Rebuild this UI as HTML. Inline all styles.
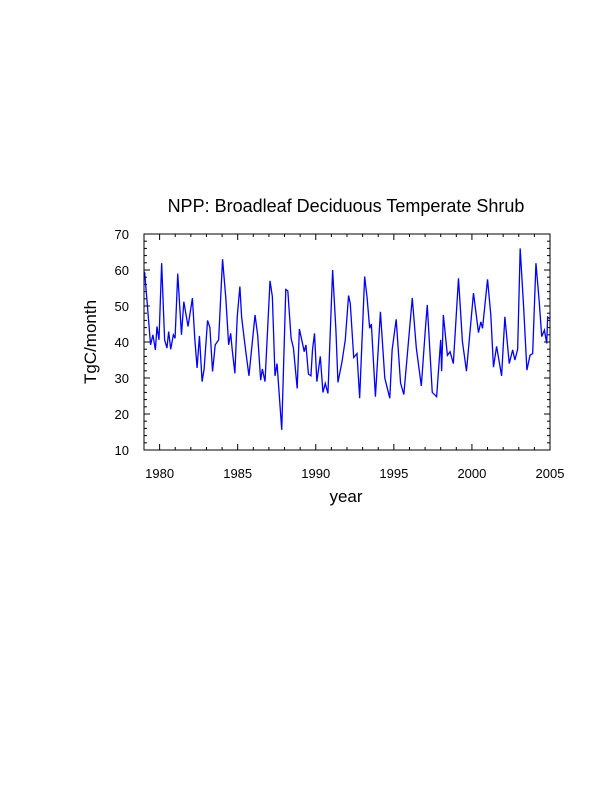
<!DOCTYPE html>
<html><head><meta charset="utf-8"><style>
body{margin:0;background:#fff;}
svg{display:block;font-family:"Liberation Sans",sans-serif;}
</style></head><body>
<svg id="chart" width="612" height="792">
<text x="346" y="212" font-size="18" text-anchor="middle">NPP: Broadleaf Deciduous Temperate Shrub</text>
<text x="346" y="502" font-size="17" text-anchor="middle">year</text>
<text transform="translate(96,342) rotate(-90)" font-size="17" text-anchor="middle">TgC/month</text>
<g id="axes"></g>
<path id="series" fill="none" stroke="#0000ff" stroke-width="1.3"/>
<rect x="144" y="234" width="406" height="216" fill="none" stroke="#000" stroke-width="1"/>
</svg>
<script>
const years = [1979.04,1979.25,1979.42,1979.57,1979.73,1979.83,1979.96,1980.13,1980.32,1980.47,1980.58,1980.71,1980.88,1980.99,1981.16,1981.40,1981.55,1981.82,1982.10,1982.25,1982.40,1982.55,1982.72,1982.85,1983.07,1983.22,1983.39,1983.56,1983.78,1984.03,1984.24,1984.42,1984.55,1984.65,1984.82,1984.97,1985.14,1985.25,1985.47,1985.72,1986.11,1986.28,1986.47,1986.58,1986.75,1987.07,1987.22,1987.39,1987.52,1987.82,1988.08,1988.21,1988.42,1988.57,1988.81,1988.95,1989.15,1989.26,1989.37,1989.53,1989.69,1989.79,1989.92,1990.07,1990.29,1990.46,1990.61,1990.78,1991.08,1991.29,1991.42,1991.68,1991.89,1992.10,1992.21,1992.43,1992.64,1992.81,1993.13,1993.29,1993.45,1993.56,1993.82,1994.14,1994.42,1994.74,1994.89,1995.15,1995.43,1995.64,1996.18,1996.44,1996.76,1997.03,1997.14,1997.46,1997.74,1998.00,1998.06,1998.17,1998.43,1998.60,1998.81,1999.14,1999.39,1999.65,2000.10,2000.42,2000.57,2000.68,2001.00,2001.21,2001.38,2001.58,2001.90,2002.11,2002.39,2002.61,2002.75,2002.93,2003.09,2003.31,2003.52,2003.72,2003.89,2004.10,2004.31,2004.47,2004.64,2004.79,2004.85,2005.00];
const values = [59.5,48.4,39.2,42,37.8,44.3,40.6,61.9,40.6,38.3,42.9,38,42,41,59,42,51.2,44.3,52.2,41.1,32.8,41.7,29,32.5,46,44,31.8,39.2,40.6,63,52.2,39.2,42.4,37.8,31.3,47,55.4,47,39,30.6,47.5,41.9,29.4,32.5,29,57,52.6,30.6,34,15.6,54.6,54.2,41,38.3,27.1,43.6,39.6,37.3,39.2,31.1,30.6,37.8,42.4,29,36,26,28.5,25.7,60,43.3,28.8,34.5,40.6,52.9,50.7,35.7,36.8,24.4,58.2,52.2,43.8,45,24.8,48.4,30,24.4,37.8,46.3,28.6,25.4,52.2,38.3,27.8,44.3,50.3,26,24.8,40.6,31.9,47.5,36.3,37.3,34,57.7,40.2,31.9,53.6,42.6,45.6,43.8,57.4,47.5,33,38.8,30.6,47,34,37.8,35,38,66,49.8,32.2,36.3,36.8,61.9,51.2,41.5,43.3,39.6,46.9,46.5];
const yTicks = [10,20,30,40,50,60,70];
const xTicks = [1980,1985,1990,1995,2000,2005];
const X0=144,X1=550,Y0=450,Y1=234;
const xs = t => X0 + (t-1979)/(2005-1979)*(X1-X0);
const ys = v => Y0 - (v-10)/(70-10)*(Y0-Y1);
const NS='http://www.w3.org/2000/svg';
const axes=document.getElementById('axes');
function line(x1,y1,x2,y2,name){
  const l=document.createElementNS(NS,'line');
  l.setAttribute('x1',x1);l.setAttribute('y1',y1);l.setAttribute('x2',x2);l.setAttribute('y2',y2);
  l.setAttribute('stroke','#000');l.setAttribute('stroke-width','1');
  
  
  axes.appendChild(l);
}
function text(x,y,s,anchor,name){
  const t=document.createElementNS(NS,'text');
  t.setAttribute('x',x);t.setAttribute('y',y);t.setAttribute('font-size','13');t.setAttribute('text-anchor',anchor);
  t.textContent=s;
  
  
  axes.appendChild(t);
}
for(let v=10;v<=70;v+=2){
  const major=(v%10===0), len=major?6:3, y=ys(v);
  line(X0,y,X0+len,y,'y-tick');
  line(X1,y,X1-len,y,'y-tick-right');
}
yTicks.forEach(v=>text(X0-15,ys(v)+5,String(v),'end','y-tick-label'));
for(let yr=1979;yr<=2005;yr++){
  const major=(yr%5===0), len=major?6:3, x=xs(yr);
  line(x,Y0,x,Y0-len,'x-tick');
  line(x,Y1,x,Y1+len,'x-tick-top');
}
xTicks.forEach(yr=>text(xs(yr),Y0+28,String(yr),'middle','x-tick-label'));
let d='';
years.forEach((t,i)=>{d+=(i?'L':'M')+xs(t).toFixed(2)+' '+ys(values[i]).toFixed(2)+' ';});
document.getElementById('series').setAttribute('d',d);
</script>
</body></html>
